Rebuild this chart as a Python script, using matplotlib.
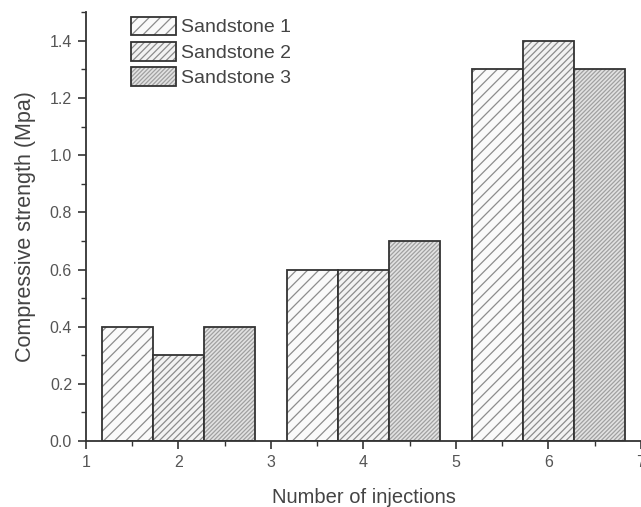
import matplotlib
matplotlib.use('Agg')
import matplotlib.pyplot as plt
from matplotlib.ticker import MultipleLocator, FormatStrFormatter
from matplotlib.legend_handler import HandlerTuple

injections = [2, 4, 6]
sandstone1 = [0.4, 0.6, 1.3]
sandstone2 = [0.3, 0.6, 1.4]
sandstone3 = [0.4, 0.7, 1.3]
labels = ['Sandstone 1', 'Sandstone 2', 'Sandstone 3']

plt.rcParams['font.family'] = ['Liberation Sans', 'DejaVu Sans']
plt.rcParams['hatch.linewidth'] = 0.9

fig = plt.figure(figsize=(6.41, 5.07), dpi=100)
ax = fig.add_axes([0.134, 0.130, 0.866, 0.846])

w = 0.55
# (fill, hatch colour, hatch pattern)
styles = [('#fafafa', '#8c8c8c', '///'),
          ('#f2f2f2', '#8c8c8c', '/////'),
          ('#e2e2e2', '#a0a0a0', '////////')]
series = [sandstone1, sandstone2, sandstone3]
handles = []
for i, (vals, (fc, hc, h)) in enumerate(zip(series, styles)):
    xs = [x + (i - 1) * w for x in injections]
    b1 = ax.bar(xs, vals, width=w, color=fc, edgecolor=hc, linewidth=0, hatch=h)
    b2 = ax.bar(xs, vals, width=w, fill=False, edgecolor='#333333', linewidth=1.3)
    handles.append((b1[0], b2[0]))

ax.set_xlim(1, 7)
ax.set_ylim(0, 1.5)
ax.xaxis.set_major_locator(MultipleLocator(1))
ax.xaxis.set_minor_locator(MultipleLocator(0.5))
ax.yaxis.set_minor_locator(MultipleLocator(0.1))
ax.set_yticks([0.0, 0.2, 0.4, 0.6, 0.8, 1.0, 1.2, 1.4])
ax.yaxis.set_major_formatter(FormatStrFormatter('%.1f'))

for s in ['top', 'right']:
    ax.spines[s].set_visible(False)
for s in ['left', 'bottom']:
    ax.spines[s].set_color('#333333')
    ax.spines[s].set_linewidth(1.3)

ax.tick_params(which='major', length=6, width=1.2, color='#333333',
               labelsize=11.5, labelcolor='#555555', pad=4)
ax.tick_params(which='minor', length=3.5, width=1.0, color='#333333')

ax.set_xlabel('Number of injections', fontsize=14.5, color='#444444', labelpad=13)
ax.set_ylabel('Compressive strength (Mpa)', fontsize=15.5, color='#444444', labelpad=10)

leg = ax.legend(handles, labels, handler_map={tuple: HandlerTuple(ndivide=1)},
                loc='upper left', bbox_to_anchor=(0.067, 1.008), frameon=False,
                fontsize=14, handlelength=2.3, handleheight=1.1,
                labelspacing=0.28, handletextpad=0.3, borderaxespad=0)
for t in leg.get_texts():
    t.set_color('#444444')

fig.savefig('out.png', dpi=100)
